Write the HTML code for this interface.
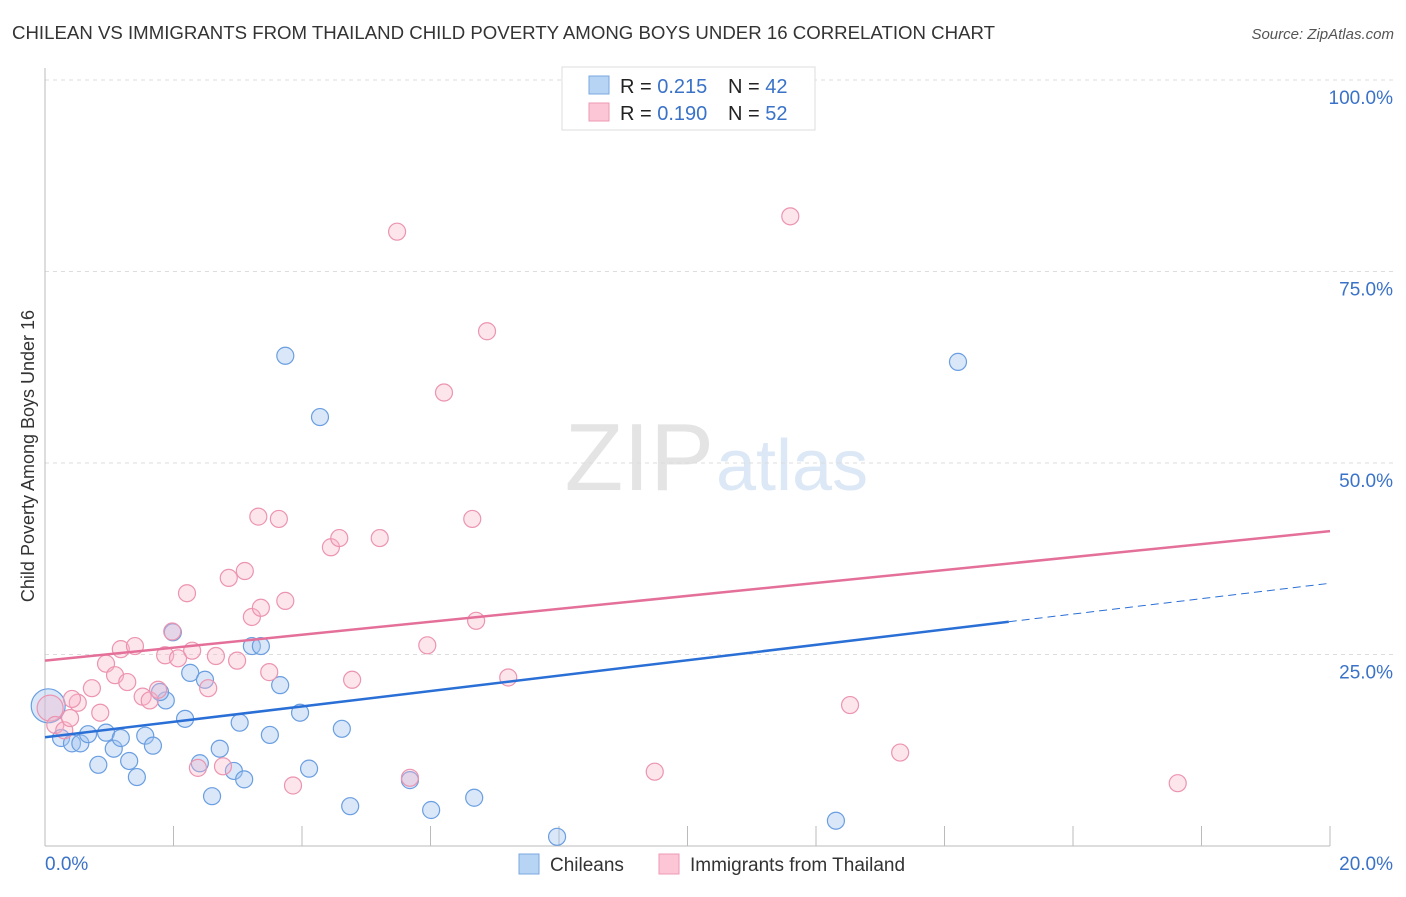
<!DOCTYPE html>
<html><head><meta charset="utf-8"><style>
body{margin:0;background:#fff;font-family:"Liberation Sans",sans-serif;}
svg text{font-family:"Liberation Sans",sans-serif;}
</style></head><body>
<svg id="c" width="1406" height="892">
<text x="12" y="39" font-size="18" fill="#333" textLength="983" lengthAdjust="spacingAndGlyphs">CHILEAN VS IMMIGRANTS FROM THAILAND CHILD POVERTY AMONG BOYS UNDER 16 CORRELATION CHART</text>
<text x="1394" y="39" font-size="15" fill="#555" font-style="italic" text-anchor="end">Source: ZipAtlas.com</text>
<text x="714" y="490" font-size="96" fill="#e4e4e4" text-anchor="end" font-family="Liberation Serif">ZIP</text>
<text x="716" y="490" font-size="72" fill="#dce8f6">atlas</text>
<text transform="translate(34,456) rotate(-90)" font-size="18" fill="#333" text-anchor="middle">Child Poverty Among Boys Under 16</text>
<g id="grid"></g><g id="pts"></g><g id="lines"></g>
<g>
<rect x="562" y="67" width="253" height="63" fill="#fff" stroke="#ddd"/>
<rect x="589" y="76" width="20" height="18" fill="#b8d4f5" stroke="#7aa8e0"/>
<rect x="589" y="103" width="20" height="18" fill="#fcc6d6" stroke="#ee9ab5"/>
<text x="620" y="93" font-size="20" fill="#222">R = <tspan fill="#3a72c8">0.215</tspan></text>
<text x="728" y="93" font-size="20" fill="#222">N = <tspan fill="#3a72c8">42</tspan></text>
<text x="620" y="120" font-size="20" fill="#222">R = <tspan fill="#3a72c8">0.190</tspan></text>
<text x="728" y="120" font-size="20" fill="#222">N = <tspan fill="#3a72c8">52</tspan></text>
</g>
<g>
<rect x="519" y="854" width="20" height="20" fill="#b8d4f5" stroke="#7aa8e0"/>
<text x="550" y="871" font-size="19" fill="#333">Chileans</text>
<rect x="659" y="854" width="20" height="20" fill="#fcc6d6" stroke="#ee9ab5"/>
<text x="690" y="871" font-size="19" fill="#333">Immigrants from Thailand</text>
</g>
</svg>
<script>
const blueX=[0.05,0.25,0.42,0.55,0.67,0.83,0.95,1.07,1.18,1.31,1.43,1.56,1.68,1.88,1.99,2.18,2.26,2.41,2.49,2.60,2.72,2.94,3.03,3.10,3.22,3.36,3.50,3.66,3.74,3.97,4.11,4.28,4.62,4.75,5.68,6.01,6.68,7.97,12.31,14.21,1.79];
const blueY=[18.3,14.1,13.4,13.4,14.6,10.6,14.8,12.7,14.1,11.1,9.0,14.4,13.1,19.0,27.9,16.6,22.6,10.8,21.7,6.5,12.7,9.8,16.1,8.7,26.1,26.1,14.5,21.0,64.0,17.4,10.1,56.0,15.3,5.2,8.6,4.7,6.3,1.2,3.3,63.2,20.1];
const pinkX=[0.08,0.16,0.30,0.39,0.51,0.73,0.86,0.95,1.09,1.18,1.28,1.40,1.52,1.63,1.76,1.87,1.98,2.07,2.21,2.29,2.38,2.54,2.66,2.77,2.86,2.99,3.11,3.22,3.32,3.36,3.49,3.64,3.74,3.86,4.45,4.58,4.78,5.21,5.48,5.68,5.95,6.21,6.65,6.71,6.88,7.21,9.49,11.60,12.53,13.31,17.63,0.42];
const pinkY=[18.0,15.8,15.1,16.7,18.7,20.6,17.4,23.8,22.3,25.7,21.4,26.1,19.5,19.0,20.4,24.9,28.0,24.5,33.0,25.5,10.2,20.6,24.8,10.4,35.0,24.2,35.9,29.9,43.0,31.1,22.7,42.7,32.0,7.9,39.0,40.2,21.7,40.2,80.2,8.9,26.2,59.2,42.7,29.4,67.2,22.0,9.7,82.2,18.4,12.2,8.2,19.2];
const xTicks=[0,20];const yTicks=[25,50,75,100];
const X=v=>45+v/20*1285, Y=v=>846-v/100*766;
const NS="http://www.w3.org/2000/svg";
function mk(t,a,p){const e=document.createElementNS(NS,t);for(const k in a)e.setAttribute(k,a[k]);p.appendChild(e);return e;}
const g=document.getElementById('grid'),P=document.getElementById('pts'),L=document.getElementById('lines');
yTicks.forEach(t=>{const l=mk('line',{x1:45,x2:1393,y1:Y(t),y2:Y(t),stroke:'#ddd','stroke-dasharray':'4,4'},g);

const tx=mk('text',{x:1393,y:Y(t)+24,'font-size':19,fill:'#3a72c8','text-anchor':'end'},g);tx.textContent=t.toFixed(1)+'%';
});
mk('line',{x1:45,x2:45,y1:68,y2:846,stroke:'#bbb'},g);
mk('line',{x1:45,x2:1330,y1:846,y2:846,stroke:'#bbb'},g);
for(let i=1;i<=10;i++){mk('line',{x1:X(i*2),x2:X(i*2),y1:826,y2:846,stroke:'#bbb'},g);}
xTicks.forEach((t,i)=>{const tx=mk('text',{x:i?1393:45,y:870,'font-size':19,fill:'#3a72c8','text-anchor':i?'end':'start'},g);tx.textContent=t.toFixed(1)+'%';
});
blueX.forEach((x,i)=>{const c=mk('circle',{cx:X(x),cy:Y(blueY[i]),r:i==0?17:8.5,fill:'rgba(160,196,240,0.4)',stroke:'#6a9ee0','stroke-width':1.2},P);
});
pinkX.forEach((x,i)=>{const c=mk('circle',{cx:X(x),cy:Y(pinkY[i]),r:i==0?13:8.5,fill:'rgba(250,180,200,0.35)',stroke:'#ec94b0','stroke-width':1.2},P);
});
const bl=[14.2,34.3],pl=[24.2,41.1],bEnd=15;
const by=x=>bl[0]+(bl[1]-bl[0])*x/20;
let e=mk('line',{x1:X(0),y1:Y(by(0)),x2:X(bEnd),y2:Y(by(bEnd)),stroke:'#2a6fd6','stroke-width':2.5},L);

e=mk('line',{x1:X(bEnd),y1:Y(by(bEnd)),x2:X(20),y2:Y(by(20)),stroke:'#2a6fd6','stroke-width':1,'stroke-dasharray':'8,5'},L);

e=mk('line',{x1:X(0),y1:Y(pl[0]),x2:X(20),y2:Y(pl[1]),stroke:'#e4709a','stroke-width':2.5},L);

</script>
</body></html>
